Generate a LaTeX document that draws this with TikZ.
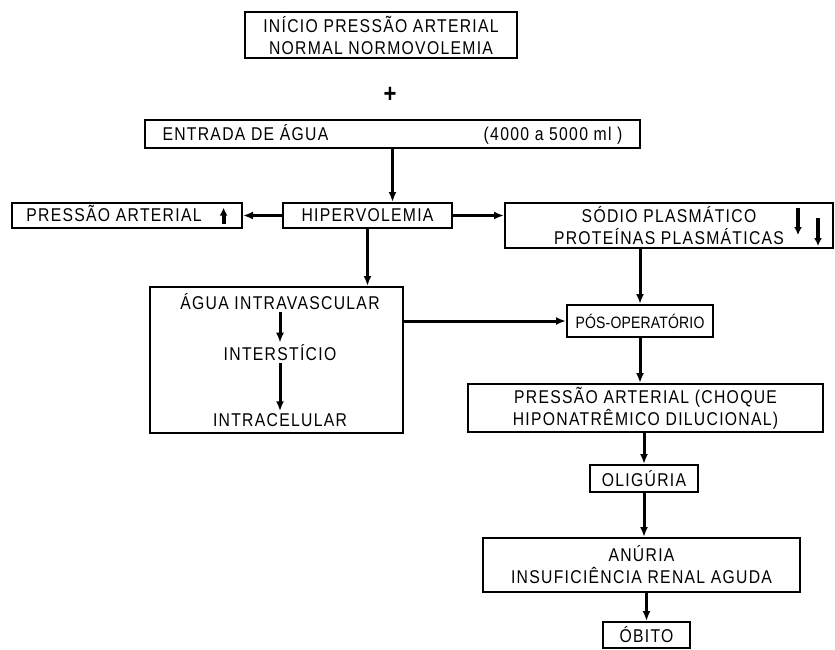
\documentclass[tikz,border=0pt]{standalone}
\usepackage{fontspec}
\setmainfont{Liberation Sans}[LetterSpace=7,FakeStretch=0.85]
\newfontfamily\tightfont{Liberation Sans}[LetterSpace=1,FakeStretch=0.85]
\usetikzlibrary{arrows.meta}
\newcommand{\fs}{\fontsize{18.5}{22}\selectfont}
\newcommand{\uparrowsym}{\tikz[baseline=0pt]\draw[line width=4pt,-{Latex[length=8pt,width=8pt]}] (0pt,-2pt)--(0pt,14pt);}
\begin{document}
\begin{tikzpicture}[x=1pt,y=-1pt,
  box/.style={draw, line width=2pt, inner sep=0pt, align=center, font=\fs},
  txt/.style={font=\fs, inner sep=2pt},
  arr/.style={line width=3pt, -{Latex[length=10pt,width=8pt]}},
  sym/.style={line width=4pt, -{Latex[length=8pt,width=8pt]}}]
\useasboundingbox (0,0) rectangle (835,650);
\node[box, minimum width=272, minimum height=46] (inicio) at (381,35) {INÍCIO PRESSÃO ARTERIAL\\NORMAL NORMOVOLEMIA};
\node[font=\fontsize{26}{26}\selectfont\bfseries] (plus) at (390,95) {+};
\node[box, minimum width=495, minimum height=28] (entrada) at (392.5,134) {\makebox[460pt]{ENTRADA DE ÁGUA\hfill(4000 a 5000 ml )}};
\node[box, minimum width=230, minimum height=25] (pa1) at (127,215.5) {PRESSÃO ARTERIAL\hspace{18pt}\uparrowsym};
\node[box, minimum width=169, minimum height=25] (hiper) at (367.5,215.5) {HIPERVOLEMIA};
\node[box, minimum width=328, minimum height=45] (sodio) at (669,225.5) {SÓDIO PLASMÁTICO\\PROTEÍNAS PLASMÁTICAS\hspace{14pt}};
\node[box, minimum width=253, minimum height=146] (agua) at (276.5,360) {};
\node[txt] (a1) at (280,302) {ÁGUA INTRAVASCULAR};
\node[txt] (a2) at (280,353) {INTERSTÍCIO};
\node[txt] (a3) at (280,420) {INTRACELULAR};
\node[box, minimum width=146, minimum height=32, font=\tightfont\fontsize{16.5}{22}\selectfont] (pos) at (640,321) {PÓS-OPERATÓRIO};
\node[box, minimum width=355, minimum height=48] (pa2) at (645.5,408) {PRESSÃO ARTERIAL (CHOQUE\\HIPONATRÊMICO DILUCIONAL)};
\node[box, minimum width=108, minimum height=27] (olig) at (644,478.5) {OLIGÚRIA};
\node[box, minimum width=317, minimum height=54] (anuria) at (641.5,565) {ANÚRIA\\INSUFICIÊNCIA RENAL AGUDA};
\node[box, minimum width=87, minimum height=26] (obito) at (646.5,635) {ÓBITO};
% symbols in sodio box
\draw[sym] (798,208) -- (798,235);
\draw[sym] (818,218) -- (818,246);
% connectors
\draw[arr] (entrada.south) -- (entrada.south |- hiper.north);
\draw[arr] (hiper.west) -- (pa1.east);
\draw[arr] (hiper.east) -- (sodio.west |- hiper.east);
\draw[arr] (hiper.south) -- (hiper.south |- agua.north);
\draw[arr] (pos.north |- sodio.south) -- (pos.north);
\draw[arr] (agua.east |- pos.west) -- (pos.west);
\draw[arr] (pos.south) -- (pos.south |- pa2.north);
\draw[arr] (olig.north |- pa2.south) -- (olig.north);
\draw[arr] (olig.south) -- (olig.south |- anuria.north);
\draw[arr] (obito.north |- anuria.south) -- (obito.north);
\draw[arr] (a1.south) -- (a2.north);
\draw[arr] (a2.south) -- (a3.north);
\end{tikzpicture}
\end{document}
